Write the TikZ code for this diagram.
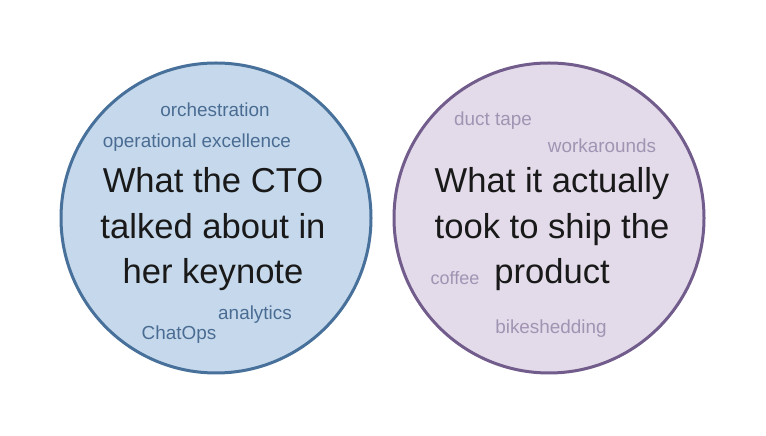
\documentclass[tikz,border=0pt]{standalone}
\usepackage{fontspec}
\setmainfont{Liberation Sans}
\definecolor{lfill}{HTML}{C6D9EC}
\definecolor{ldraw}{HTML}{47709A}
\definecolor{ltext}{HTML}{4A6C93}
\definecolor{rfill}{HTML}{E3DBEA}
\definecolor{rdraw}{HTML}{715C8C}
\definecolor{rtext}{HTML}{A194B3}
\tikzset{
  bubble/.style={circle, line width=3pt, minimum size=310pt, inner sep=0pt},
  leftbubble/.style={bubble, fill=lfill, draw=ldraw},
  rightbubble/.style={bubble, fill=rfill, draw=rdraw},
  maintext/.style={align=center, inner sep=0pt, text=black!90, font=\fontsize{34.6}{45.5}\selectfont},
  lword/.style={anchor=base, inner sep=0pt, text=ltext, font=\fontsize{18.9}{22}\selectfont},
  rword/.style={anchor=base, inner sep=0pt, text=rtext, font=\fontsize{18.9}{22}\selectfont}
}
\begin{document}
\begin{tikzpicture}[x=1pt,y=1pt]
\useasboundingbox (0,0) rectangle (766,436);
\fill[white] (0,0) rectangle (766,436);
\node[leftbubble] (L) at (216,218) {};
\node[rightbubble] (R) at (549,218) {};
\node[maintext] (Lt) at (213,206.8) {What the CTO\\talked about in\\her keynote};
\node[maintext] (Rt) at (552,206.8) {What it actually\\took to ship the\\product};
\node[lword] (w1) at (215,319.5) {orchestration};
\node[lword] (w2) at (197,288.5) {operational excellence};
\node[lword] (w3) at (255,116.5) {analytics};
\node[lword] (w4) at (179,96.5) {ChatOps};
\node[rword] (w5) at (493,310.5) {duct tape};
\node[rword] (w6) at (602,283.5) {workarounds};
\node[rword, font=\fontsize{18}{22}\selectfont] (w7) at (455,151.5) {coffee};
\node[rword] (w8) at (551,102.5) {bikeshedding};
\end{tikzpicture}
\end{document}
